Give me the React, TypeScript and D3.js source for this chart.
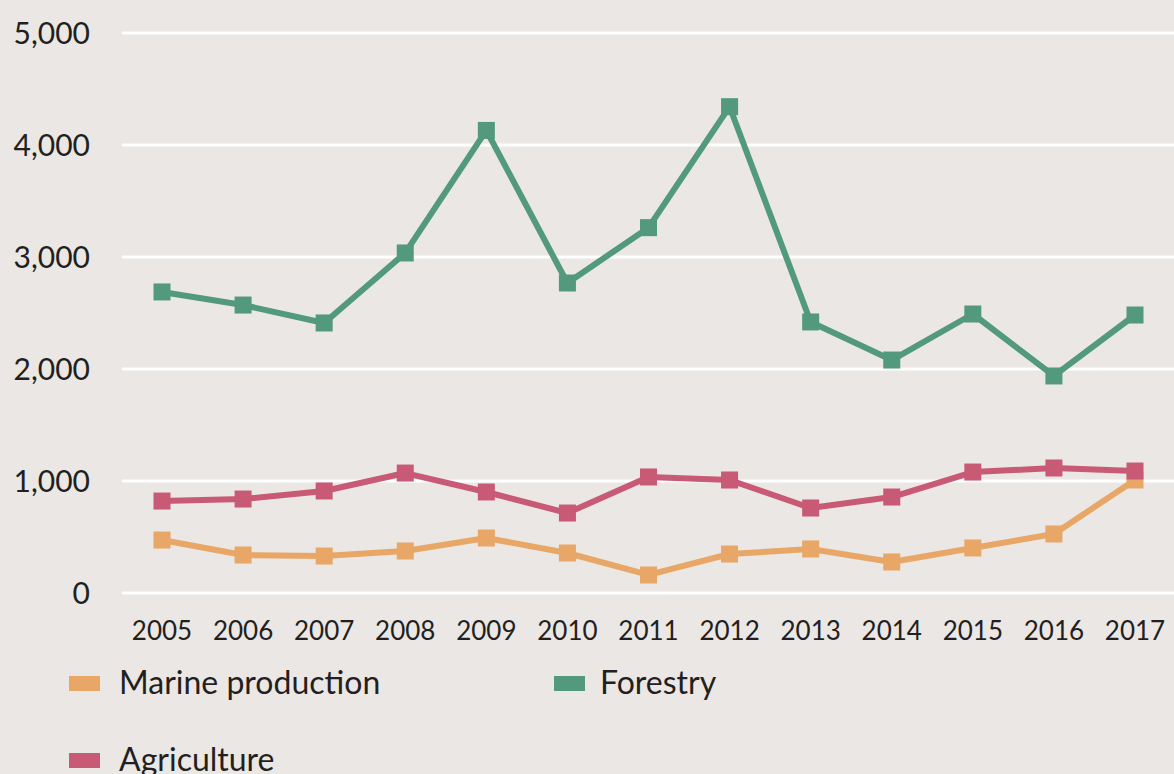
import { line, scaleLinear, scalePoint } from "d3";

const years = ["2005", "2006", "2007", "2008", "2009", "2010", "2011", "2012", "2013", "2014", "2015", "2016", "2017"];
const yTicks = [0, 1000, 2000, 3000, 4000, 5000];

const marine = [473, 339, 330, 375, 491, 357, 161, 348, 393, 277, 402, 527, 1009];
const forestry = [2688, 2571, 2411, 3036, 4130, 2768, 3262, 4342, 2420, 2080, 2491, 1938, 2482];
const agriculture = [821, 839, 911, 1071, 902, 714, 1036, 1009, 759, 857, 1080, 1116, 1089];

const seriesNames = ["Marine production", "Forestry", "Agriculture"];
const seriesColors = ["#e8a766", "#52997e", "#c85a76"];

const App = () => {
  const width = 1174;
  const height = 774;
  const margin = { top: 33, bottom: 181, left: 122, right: 0 };
  const font = "Lato, 'Open Sans', sans-serif";

  const xScale = scalePoint().domain(years).range([162, 1135]);
  const yScale = scaleLinear().domain([0, 5000]).range([height - margin.bottom, margin.top]);

  const series = [marine, forestry, agriculture];
  const path = line<number>()
    .x((_, i) => xScale(years[i]))
    .y((d) => yScale(d));

  const legend = [
    { name: seriesNames[0], color: seriesColors[0], x: 69, y: 683, dx: 50 },
    { name: seriesNames[1], color: seriesColors[1], x: 554, y: 683, dx: 46 },
    { name: seriesNames[2], color: seriesColors[2], x: 69, y: 760, dx: 50 },
  ];

  return (
    <div style={{ position: "absolute", left: 0, top: 0 }}>
      <svg width={width} height={height} style={{ display: "block", background: "#ebe7e4" }}>
        {yTicks.map((t) => (
          <g key={t}>
            <line x1={margin.left} x2={width - margin.right} y1={yScale(t)} y2={yScale(t)} stroke="#ffffff" strokeWidth={3} />
            <text
              x={90}
              y={yScale(t)}
              dy=".35em"
              textAnchor="end"
              fontFamily={font}
              fontSize={30}
              fill="#231f20"
            >
              {t.toLocaleString("en-US")}
            </text>
          </g>
        ))}
        {years.map((yr) => (
          <text
            key={yr}
            x={xScale(yr)}
            y={640}
            textAnchor="middle"
            fontFamily={font}
            fontSize={26}
            fill="#231f20"
          >
            {yr}
          </text>
        ))}
        {series.map((s, si) => (
          <g key={seriesNames[si]}>
            <path d={path(s)} fill="none" stroke={seriesColors[si]} strokeWidth={6} strokeLinejoin="round" />
            {s.map((v, i) => (
              <rect
                key={i}
                x={xScale(years[i]) - 8.5}
                y={yScale(v) - 8.5}
                width={17}
                height={17}
                fill={seriesColors[si]}
              />
            ))}
          </g>
        ))}
        {legend.map((l) => (
          <g key={l.name}>
            <rect x={l.x} y={l.y - 7} width={31} height={15} fill={l.color} />
            <text x={l.x + l.dx} y={l.y} dy=".35em" fontFamily={font} fontSize={32} fill="#231f20">
              {l.name}
            </text>
          </g>
        ))}
      </svg>
    </div>
  );
};

export default App;
